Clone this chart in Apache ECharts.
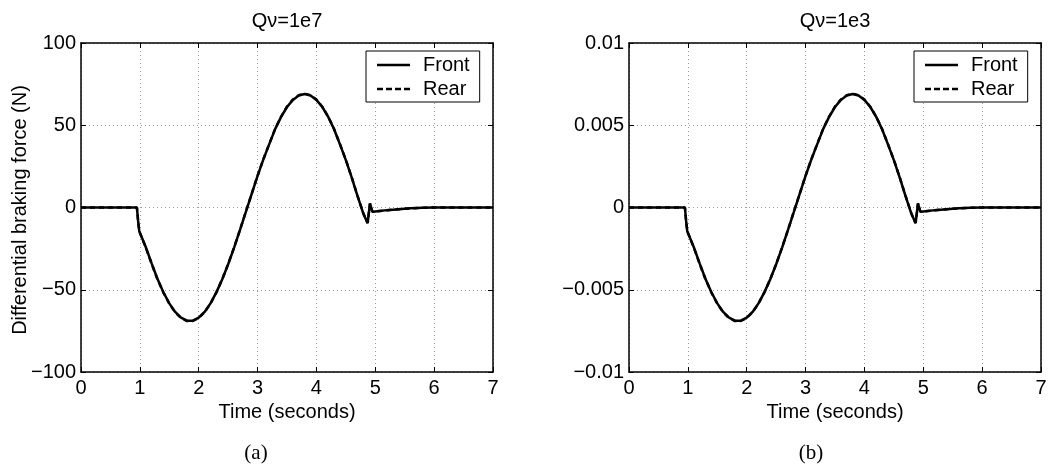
<!DOCTYPE html>
<html>
<head>
<meta charset="utf-8">
<script src="https://cdn.jsdelivr.net/npm/echarts@6/dist/echarts.min.js"></script>
<style>
  html, body { margin: 0; padding: 0; background: #fff; }
  #chart { width: 1056px; height: 468px; }
</style>
</head>
<body>
<div id="chart"></div>
<script>
// ---- Data ----
const titles = ['Q\u03bd=1e7', 'Q\u03bd=1e3'];
const captions = ['(a)', '(b)'];
const yAxisTitle = 'Differential braking force (N)';
const xAxisTitle = 'Time (seconds)';
const seriesNames = ['Front', 'Rear'];

const xTicks = [0, 1, 2, 3, 4, 5, 6, 7];
const yTicksA = [-100, -50, 0, 50, 100];
const yTicksB = [-0.01, -0.005, 0, 0.005, 0.01];

const time = [0, 0.5, 0.95, 0.97, 0.99, 1.02, 1.1, 1.2, 1.3, 1.4, 1.5, 1.6, 1.7, 1.8, 1.9,
  2.0, 2.1, 2.2, 2.3, 2.4, 2.5, 2.6, 2.7, 2.8, 2.9, 3.0, 3.1, 3.2, 3.3, 3.4, 3.5, 3.6, 3.7,
  3.8, 3.9, 4.0, 4.1, 4.2, 4.3, 4.4, 4.5, 4.6, 4.7, 4.8, 4.87, 4.91, 4.95, 5.0, 5.2, 5.4,
  5.6, 5.8, 6.0, 6.5, 7.0];

const frontA = [0, 0, 0, -8, -14.5, -15.5, -24, -34, -43.5, -51.5, -58.3, -63.5, -67, -68.8, -68.8,
  -67, -63.5, -58.3, -51.6, -43.6, -34.5, -24.5, -13.8, -2.8, 8.3, 19.2, 29.4, 38.7, 47.8, 55.1, 61.1, 65.4, 68.1,
  69.0, 68.1, 65.4, 61.1, 55.1, 47.6, 38.4, 28.8, 18.2, 6.8, -4.0, -9.5, 2.5, -2.6, -2.4, -1.6, -1.0,
  -0.5, -0.2, 0, 0, 0];
const rearA = [0, 0, 0, -8, -14.5, -15.6, -24.2, -34.2, -43.7, -51.7, -58.5, -63.7, -67.3, -69.0, -69.0,
  -67.2, -63.6, -58.4, -51.6, -43.6, -34.4, -24.4, -13.7, -2.7, 8.4, 19.3, 29.5, 38.8, 47.9, 55.3, 61.3, 65.6, 68.3,
  69.2, 68.3, 65.6, 61.2, 55.2, 47.7, 38.5, 28.9, 18.3, 6.9, -3.9, -9.4, 2.4, -2.5, -2.4, -1.6, -1.0,
  -0.5, -0.2, 0, 0, 0];

const frontB = [0, 0, 0, -0.0008, -0.00145, -0.00155, -0.0024, -0.0034, -0.00435, -0.00515, -0.00583, -0.00635, -0.0067, -0.00688, -0.00688,
  -0.0067, -0.00635, -0.00583, -0.00516, -0.00436, -0.00345, -0.00245, -0.00138, -0.00028, 0.00083, 0.00192, 0.00294, 0.00387, 0.00478, 0.00551, 0.00611, 0.00654, 0.00681,
  0.0069, 0.00681, 0.00654, 0.00611, 0.00551, 0.00476, 0.00384, 0.00288, 0.00182, 0.00068, -0.0004, -0.00095, 0.00025, -0.00026, -0.00024, -0.00016, -0.0001,
  -0.00005, -0.00002, 0, 0, 0];
const rearB = [0, 0, 0, -0.0008, -0.00145, -0.00156, -0.00242, -0.00342, -0.00437, -0.00517, -0.00585, -0.00637, -0.00673, -0.0069, -0.0069,
  -0.00672, -0.00636, -0.00584, -0.00516, -0.00436, -0.00344, -0.00244, -0.00137, -0.00027, 0.00084, 0.00193, 0.00295, 0.00388, 0.00479, 0.00553, 0.00613, 0.00656, 0.00683,
  0.00692, 0.00683, 0.00656, 0.00612, 0.00552, 0.00477, 0.00385, 0.00289, 0.00183, 0.00069, -0.00039, -0.00094, 0.00024, -0.00025, -0.00024, -0.00016, -0.0001,
  -0.00005, -0.00002, 0, 0, 0];

// ---- Helpers ----
const pair = (xs, ys) => xs.map((x, i) => [x, ys[i]]);
const FONT = 'Liberation Sans, Arial, Helvetica, sans-serif';
const fmt = v => {
  if (Math.abs(v) < 1e-12) return '0';
  const s = String(parseFloat(v.toPrecision(6)));
  return s.replace('-', '\u2212');
};
const ICON_SOLID = 'path://M0,0H33V2.5H0Z';
const ICON_DASH = 'path://M0,0H6V2.5H0Z M9,0H15V2.5H9Z M18,0H24V2.5H18Z M27,0H33V2.5H27Z';

const grids = [
  { left: 81, right: 563, top: 43, bottom: 96 },
  { left: 629, right: 15, top: 43, bottom: 96 }
];
const yTickSets = [yTicksA, yTicksB];

const xAxes = [], yAxes = [], series = [], legends = [], graphics = [];
const dataSets = [[frontA, rearA], [frontB, rearB]];

grids.forEach((g, gi) => {
  const yt = yTickSets[gi];
  const yInterval = yt[1] - yt[0];
  const splitStyle = { show: true, lineStyle: { color: '#9a9a9a', width: 1, type: [1, 3] } };
  const tick = { show: true, inside: true, length: 5, lineStyle: { color: '#000', width: 1 } };
  const aLine = { show: true, onZero: false, lineStyle: { color: '#000', width: 1.5 } };
  // bottom x
  xAxes.push({
    type: 'value', gridIndex: gi, position: 'bottom',
    min: xTicks[0], max: xTicks[xTicks.length - 1], interval: xTicks[1] - xTicks[0],
    axisLine: aLine,
    axisTick: tick,
    axisLabel: { color: '#000', fontFamily: FONT, fontSize: 20, margin: 6, formatter: fmt },
    splitLine: splitStyle,
    name: xAxisTitle, nameLocation: 'middle', nameGap: 24,
    nameTextStyle: { color: '#000', fontFamily: FONT, fontSize: 20 }
  });
  // top x (ticks only)
  xAxes.push({
    type: 'value', gridIndex: gi, position: 'top',
    min: xTicks[0], max: xTicks[xTicks.length - 1], interval: xTicks[1] - xTicks[0],
    axisLine: aLine,
    axisTick: tick, axisLabel: { show: false }, splitLine: { show: false }
  });
  // left y
  yAxes.push({
    type: 'value', gridIndex: gi, position: 'left',
    min: yt[0], max: yt[yt.length - 1], interval: yInterval,
    axisLine: aLine,
    axisTick: tick,
    axisLabel: { color: '#000', fontFamily: FONT, fontSize: 20, margin: 5, formatter: fmt },
    splitLine: splitStyle
  });
  // right y (ticks only)
  yAxes.push({
    type: 'value', gridIndex: gi, position: 'right',
    min: yt[0], max: yt[yt.length - 1], interval: yInterval,
    axisLine: aLine,
    axisTick: tick, axisLabel: { show: false }, splitLine: { show: false }
  });

  const [fr, re] = dataSets[gi];
  series.push({
    type: 'line', name: seriesNames[0], xAxisIndex: gi * 2, yAxisIndex: gi * 2,
    data: pair(time, fr), symbol: 'none', showSymbol: false,
    lineStyle: { color: '#000', width: 2.5, type: 'solid' }, itemStyle: { color: '#000' }
  });
  series.push({
    type: 'line', name: seriesNames[1], xAxisIndex: gi * 2, yAxisIndex: gi * 2,
    data: pair(time, re), symbol: 'none', showSymbol: false,
    lineStyle: { color: '#000', width: 2.5, type: [5, 4] }, itemStyle: { color: '#000' }
  });

  legends.push({
    data: [
      { name: seriesNames[0], icon: ICON_SOLID },
      { name: seriesNames[1], icon: ICON_DASH }
    ],
    orient: 'vertical',
    left: gi === 0 ? 366 : 914, top: 51,
    backgroundColor: '#fff', borderColor: '#000', borderWidth: 1, borderRadius: 0,
    padding: [4, 10, 3, 11], itemGap: 4, itemWidth: 33, itemHeight: 14,
    itemStyle: { color: '#000', borderWidth: 0 },
    lineStyle: { width: 0 },
    textStyle: { color: '#000', fontFamily: FONT, fontSize: 20, lineHeight: 20, padding: [0, 0, 0, 8] },
    selectedMode: false
  });

  const cx = gi === 0 ? 287 : 835;
  graphics.push({
    type: 'text', x: cx, y: 21,
    style: { text: titles[gi], font: '20px ' + FONT, fill: '#000',
      textAlign: 'center', textVerticalAlign: 'middle', align: 'center', verticalAlign: 'middle' }
  });
  graphics.push({
    type: 'text', x: cx - (gi === 0 ? 31 : 24), y: 453,
    style: { text: captions[gi], font: '21px "Liberation Serif", "DejaVu Serif", serif', fill: '#000',
      textAlign: 'center', textVerticalAlign: 'middle', align: 'center', verticalAlign: 'middle' }
  });
});

graphics.push({
  type: 'text', x: 20, y: 210, rotation: Math.PI / 2,
  style: { text: yAxisTitle, font: '20px ' + FONT, fill: '#000',
    textAlign: 'center', textVerticalAlign: 'middle', align: 'center', verticalAlign: 'middle' }
});

const chart = echarts.init(document.getElementById('chart'), null, { renderer: 'canvas' });
chart.setOption({
  animation: false,
  backgroundColor: '#fff',
  grid: grids.map(g => Object.assign({ containLabel: false, show: false }, g)),
  xAxis: xAxes,
  yAxis: yAxes,
  legend: legends,
  series: series,
  graphic: graphics
});
</script>
</body>
</html>
